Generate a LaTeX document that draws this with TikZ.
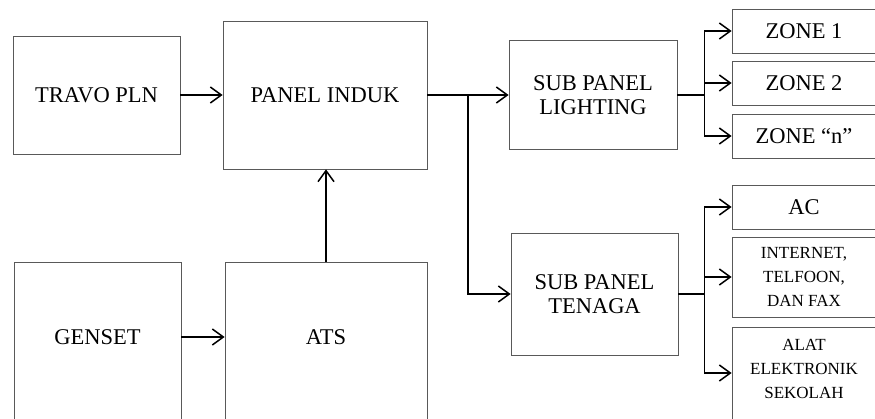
\documentclass[tikz,border=0pt]{standalone}
\usepackage{fontspec}
\setmainfont{Liberation Serif}
\usetikzlibrary{arrows.meta, calc}

\begin{document}
\begin{tikzpicture}[x=1pt, y=-1pt,
    every node/.style={font=\fontsize{22.5}{24}\selectfont, align=center},
    box/.style={draw=black!65, line width=0.8pt, anchor=center, inner sep=0pt},
    small/.style={font=\fontsize{17}{24}\selectfont},
    arr/.style={-{Straight Barb[length=11pt, width=16pt]}, line width=1.5pt, black}
]
    \useasboundingbox (0,0) rectangle (875,418);
    \clip (0,0) rectangle (875,418);

    % --- sources (bottom boxes run on below the edge) ---
    \node[box, minimum width=167pt, minimum height=118pt] (travo) at (96.5,95) {TRAVO PLN};
    \node[box, minimum width=204pt, minimum height=148pt] (induk) at (325,95) {PANEL INDUK};
    \node[box, minimum width=167pt, minimum height=170pt] (genset) at (97.5,347) {};
    \node[box, minimum width=202pt, minimum height=170pt] (ats) at (326,347) {};
    \node (gensettxt) at (97.5,337) {GENSET};
    \node (atstxt) at (326,337) {ATS};

    % --- sub panels ---
    \node[box, minimum width=168pt, minimum height=109pt] (light) at (593,95) {SUB PANEL\\LIGHTING};
    \node[box, minimum width=167pt, minimum height=122pt] (tenaga) at (594.5,294) {SUB PANEL\\TENAGA};

    % --- loads (cut off at the right edge) ---
    \node[box, minimum width=144pt, minimum height=44pt] (zone1) at (804,31) {ZONE 1};
    \node[box, minimum width=144pt, minimum height=44pt] (zone2) at (804,83) {ZONE 2};
    \node[box, minimum width=144pt, minimum height=44pt] (zonen) at (804,136) {ZONE “n”};
    \node[box, minimum width=144pt, minimum height=44pt] (ac) at (804,207) {AC};
    \node[box, small, minimum width=144pt, minimum height=80pt] (inet) at (804,277) {INTERNET,\\TELFOON,\\DAN FAX};
    \node[box, minimum width=144pt, minimum height=100pt] (alat) at (804,377) {};
    \node[small] (alattxt) at (804,369) {ALAT\\ELEKTRONIK\\SEKOLAH};

    % --- connectors ---
    \draw[arr] (travo.east) -- (induk.west);
    \draw[arr] (gensettxt -| genset.east) -- (gensettxt -| ats.west);
    \draw[arr] (ats.north) -- (ats.north |- induk.south);

    \coordinate (split) at (468,95);
    \draw[arr] (induk.east) -- (light.west);
    \draw[arr] (split) |- (tenaga.west);

    \coordinate (lbus) at ([xshift=27pt]light.east);
    \coordinate (tbus) at ([xshift=26pt]tenaga.east);
    \foreach \z in {zone1, zone2, zonen}
        \draw[arr] (light.east) -- (lbus) |- (\z.west);
    \foreach \z in {ac, inet}
        \draw[arr] (tenaga.east) -- (tbus) |- (\z.west);
    \draw[arr] (tenaga.east) -- (tbus) |- (tbus |- 0,373) -- (alat.west |- 0,373);

\end{tikzpicture}
\end{document}
